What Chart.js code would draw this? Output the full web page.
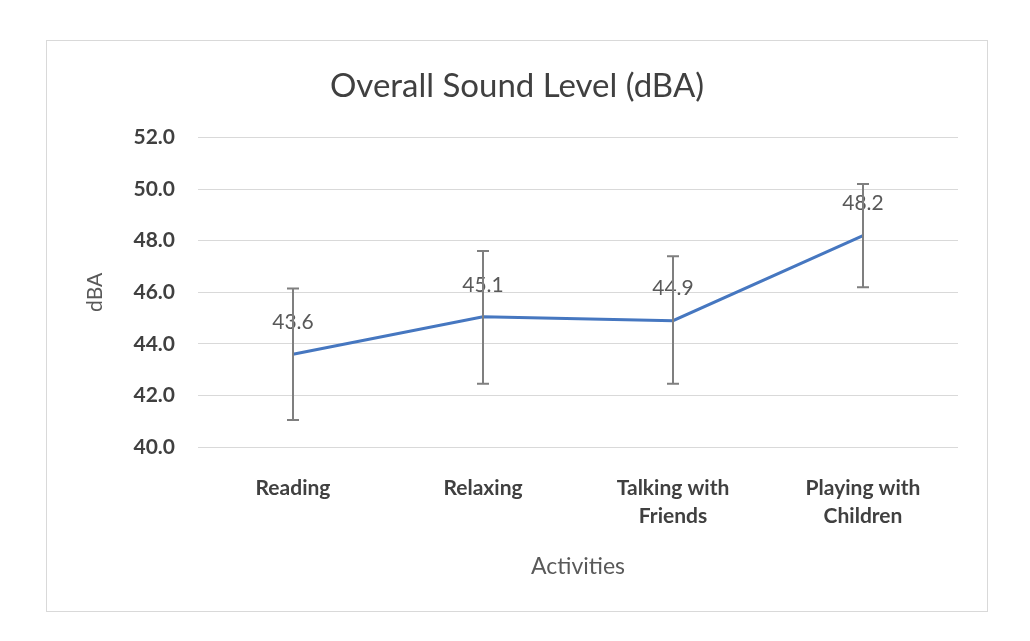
<!DOCTYPE html>
<html>
<head>
<meta charset="utf-8">
<script src="https://cdn.jsdelivr.net/npm/chart.js@4/dist/chart.umd.min.js"></script>
<style>
  html, body { margin: 0; padding: 0; background: #ffffff; }
  #wrap { position: absolute; left: 46px; top: 40px; width: 942px; height: 572px; }
</style>
</head>
<body>
<div id="wrap"><canvas id="c" width="942" height="572"></canvas></div>
<script>
// ---- data ----
const categories = [["Reading"], ["Relaxing"], ["Talking with", "Friends"], ["Playing with", "Children"]];
const meanValues = [43.6, 45.05, 44.9, 48.2];
const valueLabels = ["43.6", "45.1", "44.9", "48.2"];
const errorPlus = [2.55, 2.55, 2.5, 2.0];
const errorMinus = [2.55, 2.6, 2.45, 2.0];
const chartTitle = "Overall Sound Level (dBA)";
const xTitle = "Activities";
const yTitle = "dBA";

const FONT = "Lato, 'Open Sans', 'DejaVu Sans', sans-serif";

const decor = {
  id: 'decor',
  beforeDraw(chart) {
    const ctx = chart.ctx;
    ctx.save();
    ctx.fillStyle = '#ffffff';
    ctx.fillRect(0, 0, chart.width, chart.height);
    ctx.strokeStyle = '#d9d9d9';
    ctx.lineWidth = 1;
    ctx.strokeRect(0.5, 0.5, chart.width - 1, chart.height - 1);
    ctx.restore();
  },
  afterDatasetsDraw(chart) {
    const ctx = chart.ctx;
    const xs = chart.scales.x, ys = chart.scales.y;
    ctx.save();
    // value labels
    ctx.font = "21px " + FONT;
    ctx.fillStyle = '#595959';
    ctx.textAlign = 'center';
    ctx.textBaseline = 'middle';
    meanValues.forEach((v, i) => {
      const x = xs.getPixelForValue(i);
      const y = ys.getPixelForValue(v);
      ctx.fillText(valueLabels[i], x, y - 32);
    });
    // error bars
    ctx.strokeStyle = '#7f7f7f';
    ctx.lineWidth = 2;
    meanValues.forEach((v, i) => {
      const x = Math.round(xs.getPixelForValue(i));
      const yt = ys.getPixelForValue(v + errorPlus[i]);
      const yb = ys.getPixelForValue(v - errorMinus[i]);
      ctx.beginPath();
      ctx.moveTo(x, yt); ctx.lineTo(x, yb);
      ctx.moveTo(x - 6, yt); ctx.lineTo(x + 6, yt);
      ctx.moveTo(x - 6, yb); ctx.lineTo(x + 6, yb);
      ctx.stroke();
    });
    ctx.restore();
  }
};

new Chart(document.getElementById('c'), {
  type: 'line',
  data: {
    labels: categories,
    datasets: [{
      data: meanValues,
      borderColor: '#4677c0',
      borderWidth: 3,
      pointRadius: 0,
      tension: 0,
      fill: false
    }]
  },
  options: {
    responsive: false,
    animation: false,
    devicePixelRatio: 1,
    layout: { padding: { left: 30, right: 30, top: 0, bottom: 0 } },
    plugins: {
      legend: { display: false },
      tooltip: { enabled: false },
      title: {
        display: true,
        text: chartTitle,
        color: '#404040',
        font: { family: FONT, size: 33, weight: 'normal', lineHeight: 1.2 },
        padding: { top: 27, bottom: 31 }
      }
    },
    scales: {
      x: {
        offset: true,
        grid: { display: false, drawTicks: false },
        border: { display: false },
        ticks: {
          color: '#404040',
          font: { family: FONT, size: 21, weight: 'bold', lineHeight: 1.333 },
          padding: 27,
          maxRotation: 0,
          autoSkip: false
        },
        title: {
          display: true,
          text: xTitle,
          color: '#595959',
          font: { family: FONT, size: 23, lineHeight: 1.2 },
          padding: { bottom: 32 }
        },
        afterFit(s) { s.height = 165; }
      },
      y: {
        min: 40,
        max: 52,
        grid: { color: '#d9d9d9', lineWidth: 1, drawTicks: false },
        border: { display: false },
        ticks: {
          stepSize: 2,
          color: '#404040',
          font: { family: FONT, size: 21, weight: 'bold' },
          padding: 23,
          callback: (v) => Number(v).toFixed(1)
        },
        title: {
          display: true,
          text: yTitle,
          color: '#595959',
          font: { family: FONT, size: 21, lineHeight: 1.2 },
          padding: { top: 7 }
        },
        afterFit(s) { s.width = 122; }
      }
    }
  },
  plugins: [decor]
});
</script>
</body>
</html>
